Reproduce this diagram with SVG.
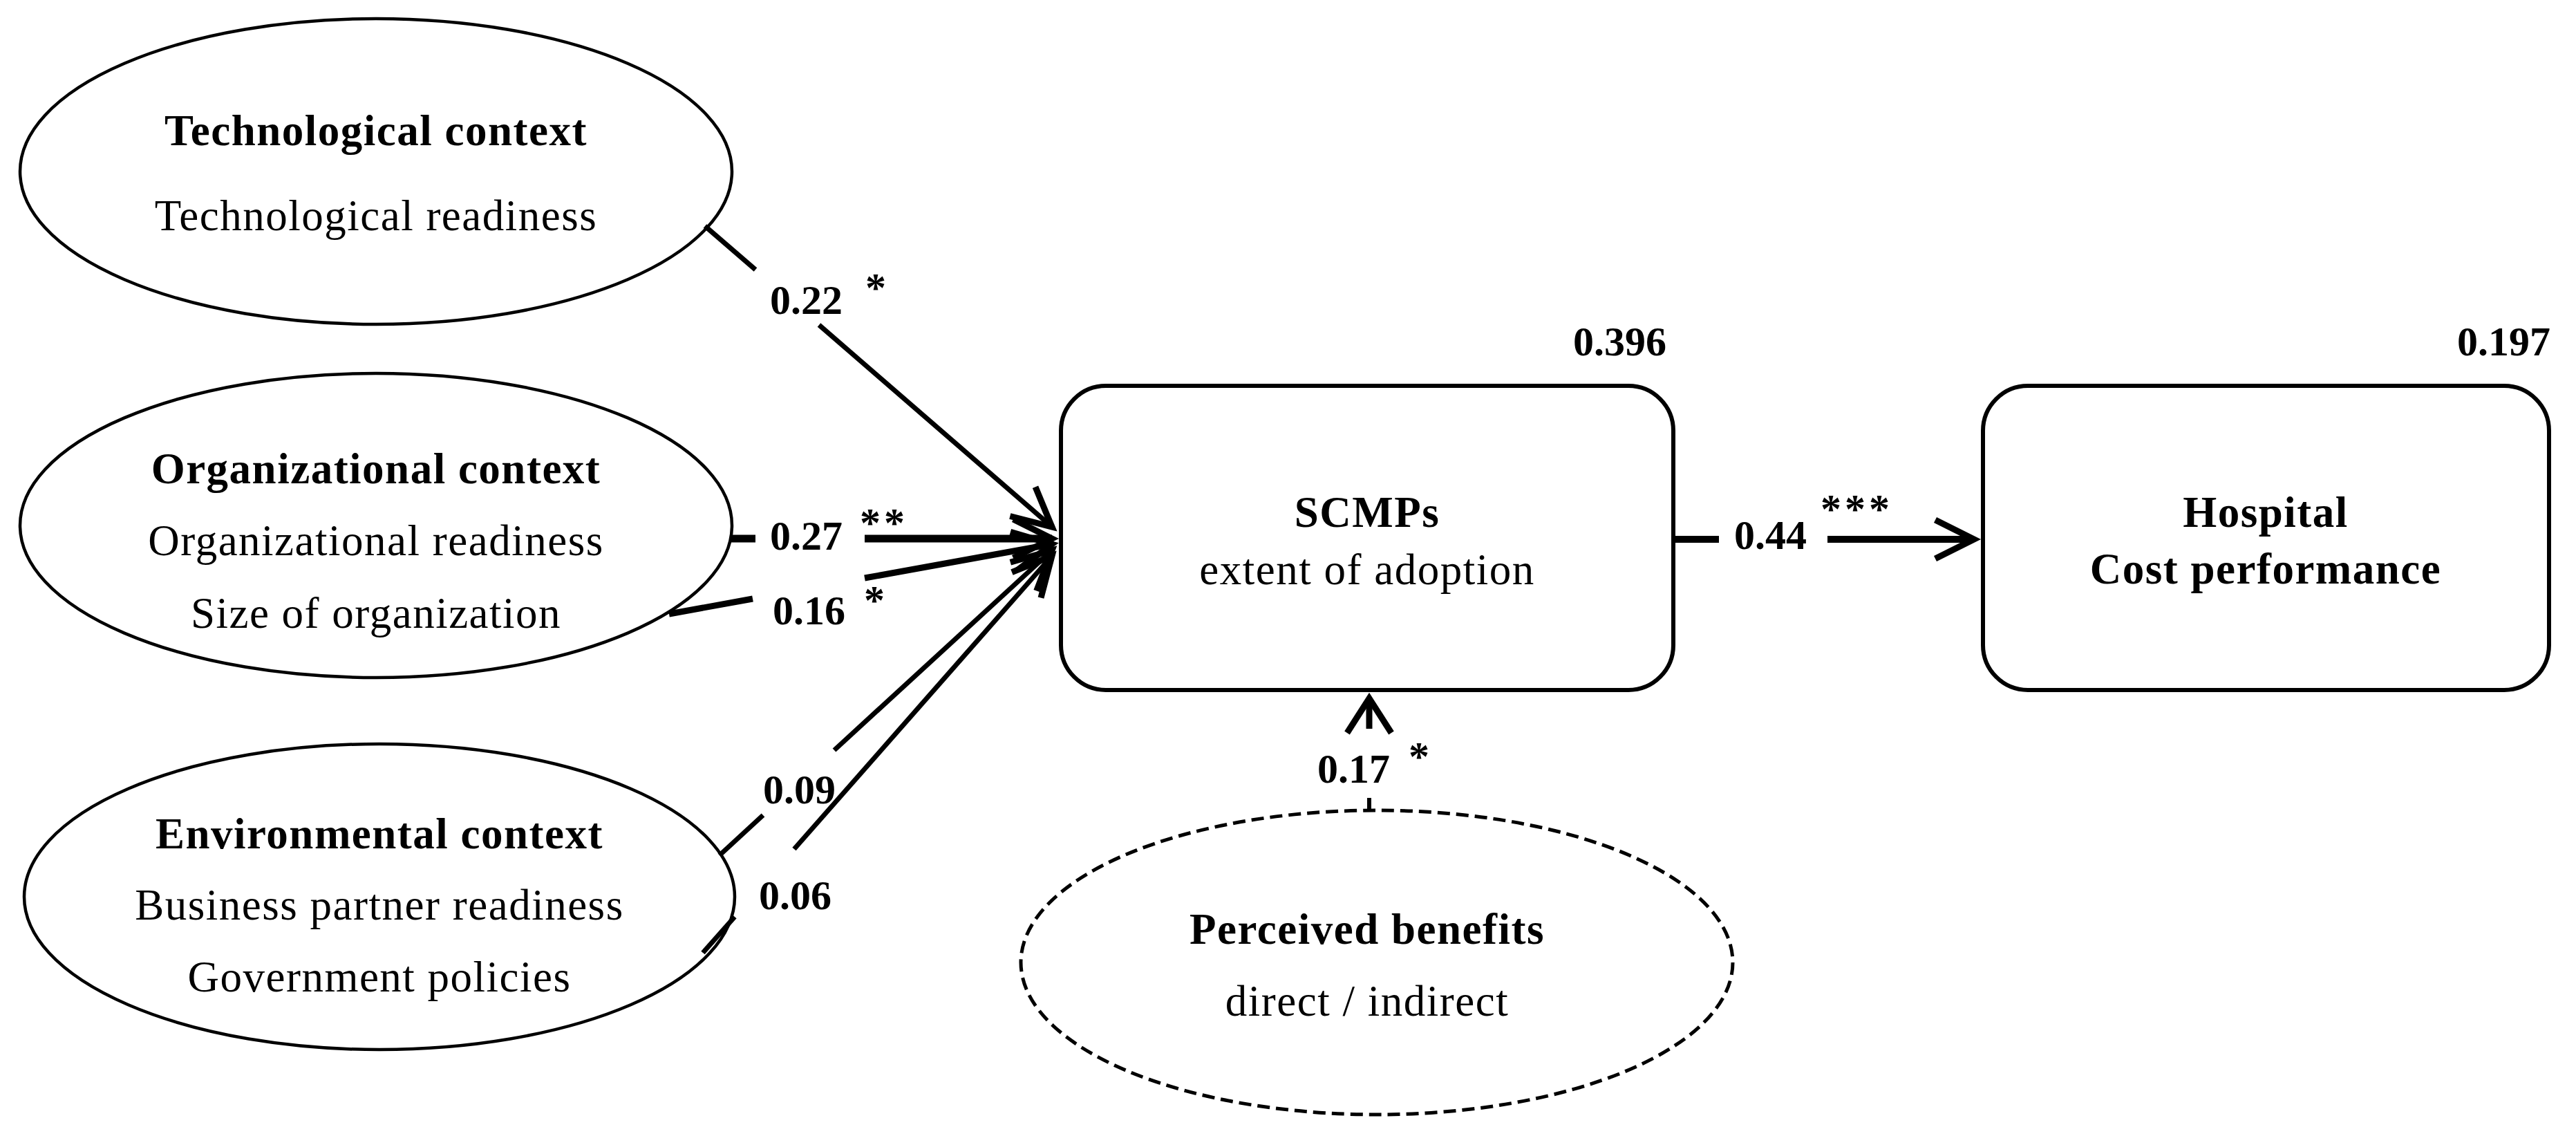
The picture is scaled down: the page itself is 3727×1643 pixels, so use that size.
<svg xmlns="http://www.w3.org/2000/svg" width="3727" height="1643" viewBox="0 0 3727 1643">
<style>
  .bg { fill: #ffffff; }
  .ell { fill: #ffffff; stroke: #000000; stroke-width: 4.5; }
  .ell-dash { fill: #ffffff; stroke: #000000; stroke-width: 5; stroke-dasharray: 18 9; }
  .box { fill: #ffffff; stroke: #000000; stroke-width: 6; }
  .t { font-family: "Liberation Serif", "Times New Roman", serif; font-size: 63px; fill: #000000; letter-spacing: 1.5px; }
  .tc { text-anchor: middle; }
  .b { font-weight: bold; }
  .lbl { font-family: "Liberation Serif", "Times New Roman", serif; font-size: 60px; font-weight: bold; fill: #000000; }
  .ast { font-family: "Liberation Serif", "Times New Roman", serif; font-size: 60px; font-weight: bold; fill: #000000; letter-spacing: 5px; }
  .edge { fill: none; stroke: #000000; stroke-linecap: butt; }
</style>
<defs>
  <marker id="chev" markerUnits="userSpaceOnUse" viewBox="-80 -45 100 90" markerWidth="100" markerHeight="90" refX="0" refY="0" orient="auto" overflow="visible">
    <path d="M-56,-28 L0,0 L-56,28" fill="none" stroke="#000000" stroke-width="9" stroke-linejoin="miter"/>
  </marker>
  <marker id="chevWide" markerUnits="userSpaceOnUse" viewBox="-80 -45 100 90" markerWidth="100" markerHeight="90" refX="0" refY="0" orient="auto" overflow="visible">
    <path d="M-50,-32 L0,0 L-50,32" fill="none" stroke="#000000" stroke-width="9" stroke-linejoin="miter"/>
  </marker>
</defs>
<rect class="bg" x="0" y="0" width="3727" height="1643"/>

<g id="node-technological">
  <ellipse class="ell" cx="544" cy="248" rx="515" ry="221"/>
  <text class="t tc b" x="544" y="210">Technological context</text>
  <text class="t tc" x="544" y="333">Technological readiness</text>
</g>

<g id="node-organizational">
  <ellipse class="ell" cx="544" cy="760" rx="515" ry="220"/>
  <text class="t tc b" x="544" y="699">Organizational context</text>
  <text class="t tc" x="544" y="803">Organizational readiness</text>
  <text class="t tc" x="544" y="908">Size of organization</text>
</g>

<g id="node-environmental">
  <ellipse class="ell" cx="549" cy="1297" rx="514" ry="221"/>
  <text class="t tc b" x="549" y="1227">Environmental context</text>
  <text class="t tc" x="549" y="1330">Business partner readiness</text>
  <text class="t tc" x="549" y="1434">Government policies</text>
</g>

<g id="node-scmps">
  <rect class="box" x="1535" y="558" width="886" height="440" rx="65" ry="65"/>
  <text class="t tc b" x="1978" y="762">SCMPs</text>
  <text class="t tc" x="1978" y="845">extent of adoption</text>
  <text class="lbl" x="2411" y="514" text-anchor="end">0.396</text>
</g>

<g id="node-hospital">
  <rect class="box" x="2869" y="558" width="819" height="440" rx="65" ry="65"/>
  <text class="t tc b" x="3278" y="762">Hospital</text>
  <text class="t tc b" x="3278" y="844">Cost performance</text>
  <text class="lbl" x="3690" y="514" text-anchor="end">0.197</text>
</g>

<g id="node-perceived">
  <ellipse class="ell-dash" cx="1992" cy="1392" rx="515" ry="220"/>
  <text class="t tc b" x="1978" y="1365">Perceived benefits</text>
  <text class="t tc" x="1978" y="1469">direct / indirect</text>
</g>

<g id="connectors">
  <g id="edge-tech-scmps">
    <line class="edge" x1="1020" y1="327" x2="1093" y2="390" stroke-width="7"/>
    <line class="edge" x1="1185" y1="470" x2="1522" y2="762" stroke-width="7" marker-end="url(#chev)"/>
    <text class="lbl" x="1114" y="454">0.22</text>
    <text class="ast" x="1252" y="436">*</text>
  </g>
  <g id="edge-orgready-scmps">
    <line class="edge" x1="1057" y1="779" x2="1093" y2="779" stroke-width="11"/>
    <line class="edge" x1="1251" y1="779" x2="1522" y2="779" stroke-width="11" marker-end="url(#chev)"/>
    <text class="lbl" x="1114" y="795">0.27</text>
    <text class="ast" x="1244" y="776">**</text>
  </g>
  <g id="edge-orgsize-scmps">
    <line class="edge" x1="968" y1="888" x2="1089" y2="866" stroke-width="9"/>
    <line class="edge" x1="1251" y1="836" x2="1522" y2="787" stroke-width="9" marker-end="url(#chev)"/>
    <text class="lbl" x="1118" y="903">0.16</text>
    <text class="ast" x="1250" y="888">*</text>
  </g>
  <g id="edge-envpartner-scmps">
    <line class="edge" x1="1041" y1="1237" x2="1104" y2="1179" stroke-width="7"/>
    <line class="edge" x1="1207" y1="1085" x2="1522" y2="796" stroke-width="7" marker-end="url(#chev)"/>
    <text class="lbl" x="1104" y="1162">0.09</text>
  </g>
  <g id="edge-envgov-scmps">
    <line class="edge" x1="1017" y1="1378" x2="1063" y2="1326" stroke-width="7"/>
    <line class="edge" x1="1149" y1="1228" x2="1522" y2="804" stroke-width="7" marker-end="url(#chev)"/>
    <text class="lbl" x="1098" y="1315">0.06</text>
  </g>
  <g id="edge-scmps-hospital">
    <line class="edge" x1="2421" y1="780" x2="2487" y2="780" stroke-width="10"/>
    <line class="edge" x1="2644" y1="780" x2="2856" y2="780" stroke-width="10" marker-end="url(#chev)"/>
    <text class="lbl" x="2509" y="794">0.44</text>
    <text class="ast" x="2634" y="756">***</text>
  </g>
  <g id="edge-perceived-scmps">
    <line class="edge" x1="1981" y1="1174" x2="1981" y2="1154" stroke-width="6"/>
    <line class="edge" x1="1981" y1="1054" x2="1981" y2="1010" stroke-width="9" marker-end="url(#chevWide)"/>
    <text class="lbl" x="1906" y="1132">0.17</text>
    <text class="ast" x="2038" y="1114">*</text>
  </g>
</g>
</svg>
